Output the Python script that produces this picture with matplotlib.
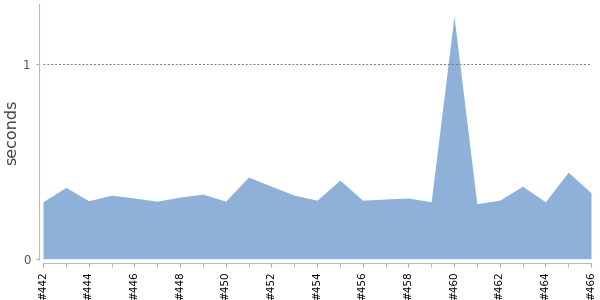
import matplotlib.pyplot as plt

builds = list(range(442, 467))
seconds = [0.293, 0.367, 0.298, 0.327, 0.312, 0.296, 0.317, 0.332, 0.296, 0.420,
           0.373, 0.327, 0.301, 0.404, 0.301, 0.307, 0.312, 0.293, 1.246, 0.283,
           0.301, 0.373, 0.293, 0.445, 0.339]
major_builds = builds[::2]
tick_labels = ['#%d' % b for b in major_builds]

fig = plt.figure(figsize=(6, 3), dpi=100)
ax = fig.add_axes([43 / 600, 1 - 258.7 / 300, 548 / 600, 254.7 / 300])

ax.fill_between(builds, seconds, 0, color='#8fb1d9', linewidth=0)
ax.axhline(1, color='#777777', linestyle=(0, (2, 2)), linewidth=0.7)

ax.set_xlim(442, 466)
ax.set_ylim(0, 1.31)

ax.set_xticks(builds, minor=True)
ax.set_xticks(major_builds)
ax.set_xticklabels(tick_labels)
ax.set_yticks([0, 1])
ax.set_yticklabels(['0', '1'])
ax.tick_params(axis='x', which='both', length=3, color='#aaaaaa', pad=3)
ax.tick_params(axis='x', labelrotation=90, labelsize=7.5, labelcolor='black')
ax.tick_params(axis='y', length=2, color='#aaaaaa', pad=4,
               labelsize=8.5, labelcolor='#555555')

for side in ['top', 'right']:
    ax.spines[side].set_visible(False)
for side in ['left', 'bottom']:
    ax.spines[side].set_position(('outward', 3))
    ax.spines[side].set_color('#bbbbbb')
    ax.spines[side].set_linewidth(0.8)

fig.text(12 / 600, 0.56, 'seconds', rotation=90, ha='center', va='center',
         fontsize=11.5, color='#444444')

fig.savefig('out.png', dpi=100)
